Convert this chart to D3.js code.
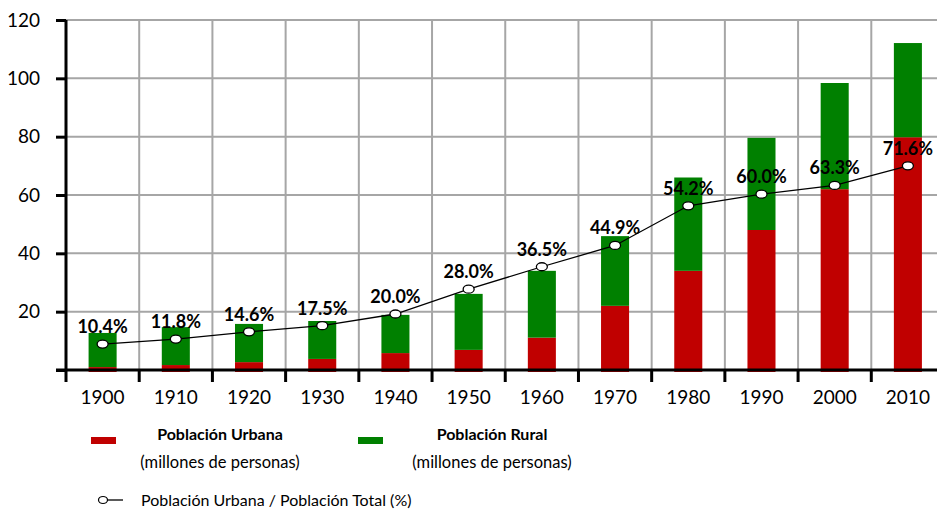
<!DOCTYPE html>
<html>
<head>
<meta charset="utf-8">
<script src="https://cdn.jsdelivr.net/npm/d3@7"></script>
<style>
  body { margin: 0; background: #fff; }
  svg { display: block; font-family: Lato, "Open Sans", sans-serif; }
</style>
</head>
<body>
<div id="chart"></div>
<script>
// data
const years = ["1900", "1910", "1920", "1930", "1940", "1950", "1960", "1970", "1980", "1990", "2000", "2010"];
const urban = [1.0, 1.7, 2.7, 3.8, 5.8, 6.9, 11.1, 22.0, 34.0, 48.0, 62.0, 79.8];
const rural = [11.7, 13.0, 13.1, 13.0, 13.1, 19.2, 22.9, 23.9, 32.0, 31.6, 36.4, 32.3];
const ratioPlotted = [8.9, 10.6, 13.1, 15.2, 19.2, 27.7, 35.4, 42.7, 56.3, 60.3, 63.3, 70.0];
const ratioLabels = [10.4, 11.8, 14.6, 17.5, 20.0, 28.0, 36.5, 44.9, 54.2, 60.0, 63.3, 71.6];
const yTicks = [0, 20, 40, 60, 80, 100, 120];

const w = 937, h = 510;
const plotLeft = 66, plotRight = 944.5, plotTop = 20, plotBottom = 370;
const red = "#c00000", green = "#008000", grid = "#a6a6a6";

const svg = d3.select("#chart").append("svg")
  .attr("width", w)
  .attr("height", h);

const x = d3.scaleBand().domain(years).range([plotLeft, plotRight]);
const y = d3.scaleLinear().domain([0, 120]).range([plotBottom, plotTop]);
const barW = x.step() * 0.383;
const cx = d => x(d) + x.bandwidth() / 2;

// grid lines
svg.append("g").selectAll("line.h")
  .data(yTicks.slice(1))
  .enter().append("line")
  .attr("x1", plotLeft).attr("x2", w)
  .attr("y1", d => y(d)).attr("y2", d => y(d))
  .style("stroke", grid).style("stroke-width", 2);

svg.append("g").selectAll("line.v")
  .data(years.slice(1))
  .enter().append("line")
  .attr("x1", d => x(d)).attr("x2", d => x(d))
  .attr("y1", plotTop).attr("y2", plotBottom)
  .style("stroke", grid).style("stroke-width", 2);

// stacked bars
const stackData = years.map((yr, i) => ({ year: yr, urban: urban[i], rural: rural[i] }));
const series = d3.stack().keys(["urban", "rural"])(stackData);
const colors = { urban: red, rural: green };

svg.append("g").selectAll("g")
  .data(series)
  .enter().append("g")
  .style("fill", d => colors[d.key])
  .selectAll("rect")
  .data(d => d)
  .enter().append("rect")
  .attr("x", d => cx(d.data.year) - barW / 2)
  .attr("width", barW)
  .attr("y", d => y(d[1]))
  .attr("height", d => y(d[0]) - y(d[1]) + (d[0] === 0 ? 2 : 0));

// axes
const yAxis = svg.append("g")
  .attr("transform", `translate(${plotLeft},0)`)
  .call(d3.axisLeft(y).tickValues(yTicks).tickSize(10).tickFormat(d => d === 0 ? "" : d));
yAxis.select(".domain").attr("d", `M0,${plotTop}V${plotBottom + 12}`);

const xAxis = svg.append("g")
  .attr("transform", `translate(0,${plotBottom})`)
  .call(d3.axisBottom(x).tickSize(0).tickPadding(21));
xAxis.select(".domain").attr("d", `M${plotLeft - 10},0H${w}`);

svg.selectAll(".domain").style("stroke", "#000").style("stroke-width", 3);
yAxis.selectAll(".tick line").style("stroke", "#000").style("stroke-width", 3);
svg.selectAll(".tick text")
  .style("font-family", "Lato, sans-serif")
  .style("font-size", "19px")
  .style("fill", "#000");
yAxis.selectAll(".tick text").attr("x", -26);

// x tick marks between categories
svg.append("g").selectAll("line")
  .data(years.slice(1))
  .enter().append("line")
  .attr("x1", d => x(d)).attr("x2", d => x(d))
  .attr("y1", plotBottom).attr("y2", plotBottom + 12)
  .style("stroke", "#000").style("stroke-width", 3);

// ratio line
const line = d3.line()
  .x((d, i) => cx(years[i]))
  .y(d => y(d));

svg.append("path")
  .datum(ratioPlotted)
  .attr("d", line)
  .style("fill", "none")
  .style("stroke", "#000")
  .style("stroke-width", 1.3);

svg.append("g").selectAll("ellipse")
  .data(ratioPlotted)
  .enter().append("ellipse")
  .attr("cx", (d, i) => cx(years[i]))
  .attr("cy", d => y(d))
  .attr("rx", 5.5).attr("ry", 4)
  .style("fill", "#fff")
  .style("stroke", "#000")
  .style("stroke-width", 1.3);

svg.append("g").selectAll("text")
  .data(ratioLabels)
  .enter().append("text")
  .text(d => d.toFixed(1) + "%")
  .attr("x", (d, i) => cx(years[i]))
  .attr("y", (d, i) => y(ratioPlotted[i]) - 11)
  .attr("text-anchor", "middle")
  .style("font-size", "18px")
  .style("font-weight", "bold")
  .style("fill", "#000");

// legend
const legend = svg.append("g");
const legendItems = [
  { name: "Población Urbana", color: red, sx: 91, tx: 220 },
  { name: "Población Rural", color: green, sx: 358, tx: 492 }
];
legendItems.forEach(item => {
  legend.append("rect")
    .attr("x", item.sx).attr("y", 437)
    .attr("width", 25).attr("height", 7)
    .style("fill", item.color);
  legend.append("text")
    .attr("x", item.tx).attr("y", 440)
    .attr("text-anchor", "middle")
    .style("font-size", "16px")
    .style("font-weight", "bold")
    .text(item.name);
  legend.append("text")
    .attr("x", item.tx).attr("y", 468)
    .attr("text-anchor", "middle")
    .style("font-size", "16.5px")
    .text("(millones de personas)");
});

legend.append("line")
  .attr("x1", 103).attr("x2", 123)
  .attr("y1", 500).attr("y2", 500)
  .style("stroke", "#000").style("stroke-width", 1.3);
legend.append("ellipse")
  .attr("cx", 103).attr("cy", 500)
  .attr("rx", 4.5).attr("ry", 3.5)
  .style("fill", "#fff").style("stroke", "#000").style("stroke-width", 1.2);
legend.append("text")
  .attr("x", 141).attr("y", 506)
  .style("font-size", "16px")
  .text("Población Urbana / Población Total (%)");
</script>
</body>
</html>
